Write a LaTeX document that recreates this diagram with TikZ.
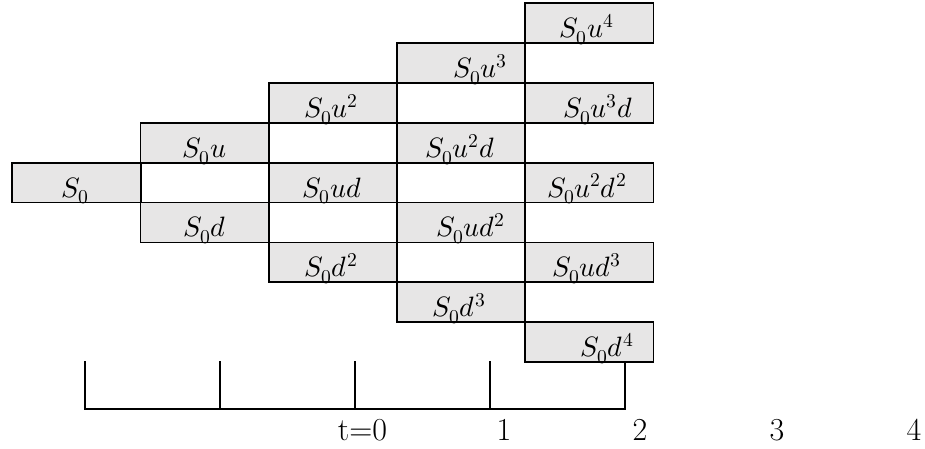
\documentclass[tikz,border=0pt]{standalone}
\usepackage{fontspec}
\usepackage{unicode-math}
\setmathfont{Latin Modern Math}
\definecolor{cellgray}{RGB}{231,230,230}
\tikzset{
  cell/.style={draw=black, fill=cellgray, line width=1.8pt, minimum width=128.5pt, minimum height=39.85pt, inner sep=0pt, outer sep=0pt},
  mtxt/.style={anchor=base, inner sep=0pt, font=\fontsize{28}{32}\selectfont},
  axis/.style={line width=1.8pt, line cap=rect},
  tlbl/.style={anchor=base, inner sep=0pt, font=\fontsize{32}{36}\selectfont}
}
\newcommand{\cellbox}[5]{% name, col, row, text x, text
  \node[cell] (#1) at ({76.5+128.2*#2},{-(3.3+39.85*(#3+0.5))}) {};
  \node[mtxt] (#1t) at (#4,{-(3.3+39.85*(#3+1)-5.5)}) {#5};
}
\begin{document}
\begin{tikzpicture}[x=1pt,y=1pt]
\useasboundingbox (0,0) rectangle (925,-448);
\cellbox{a}{0}{4}{75.5}{$S_0$}
\cellbox{b1}{1}{3}{204.5}{$S_0u$}
\cellbox{b2}{1}{5}{204.5}{$S_0d$}
\cellbox{c1}{2}{2}{331}{$S_0u^2$}
\cellbox{c2}{2}{4}{332}{$S_0ud$}
\cellbox{c3}{2}{6}{331}{$S_0d^2$}
\cellbox{d1}{3}{1}{480}{$S_0u^3$}
\cellbox{d2}{3}{3}{460}{$S_0u^2d$}
\cellbox{d3}{3}{5}{470.5}{$S_0ud^2$}
\cellbox{d4}{3}{7}{459}{$S_0d^3$}
\cellbox{e1}{4}{0}{586.7}{$S_0u^4$}
\cellbox{e2}{4}{2}{598}{$S_0u^3d$}
\cellbox{e3}{4}{4}{586.7}{$S_0u^2d^2$}
\cellbox{e4}{4}{6}{586.5}{$S_0ud^3$}
\cellbox{e5}{4}{8}{607}{$S_0d^4$}
% time axis
\coordinate (t0) at (85,-362.3);
\coordinate (t1) at (220,-362.3);
\coordinate (t2) at (355,-362.3);
\coordinate (t3) at (490,-362.3);
\coordinate (t4) at (625,-362.3);
\coordinate (b0) at (85,-409);
\coordinate (b4) at (625,-409);
\draw[axis] (t0) -- (b0) -- (b4) -- (t4);
\draw[axis] (t1) -- (t1 |- b0);
\draw[axis] (t2) -- (t2 |- b0);
\draw[axis] (t3) -- (t3 |- b0);
\node[tlbl] (l0) at (362.5,-440) {t=0};
\node[tlbl] (l1) at (504,-440) {1};
\node[tlbl] (l2) at (640,-440) {2};
\node[tlbl] (l3) at (777,-440) {3};
\node[tlbl] (l4) at (914,-440) {4};
\end{tikzpicture}
\end{document}
